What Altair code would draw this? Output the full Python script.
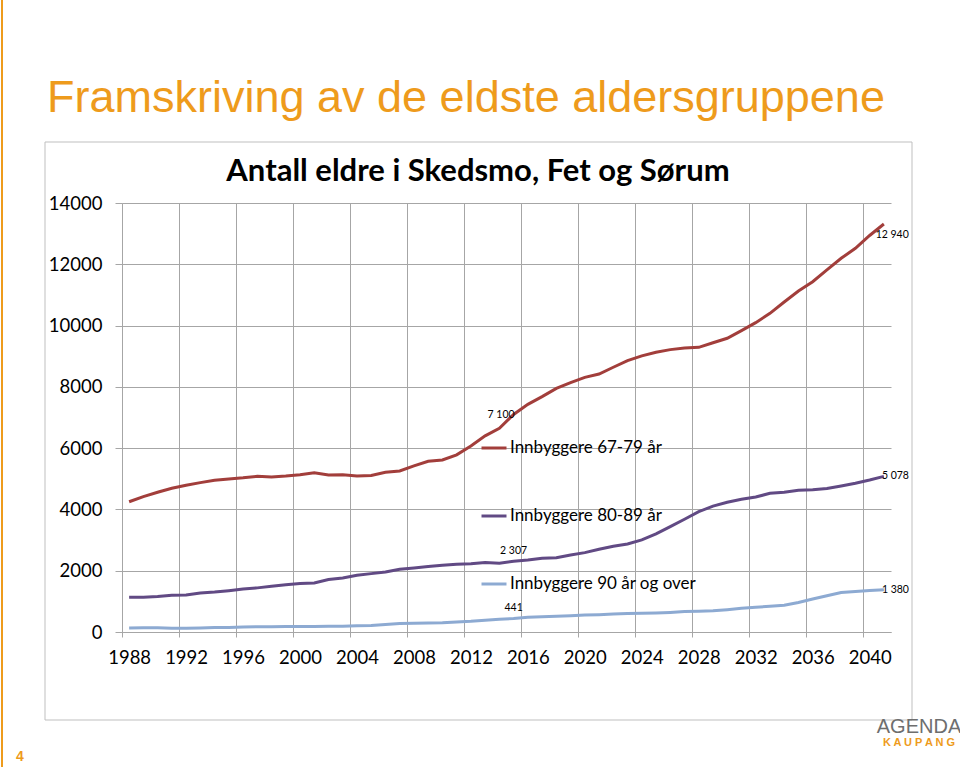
import altair as alt
import pandas as pd

# ---------------- data ----------------
years = list(range(1988, 2042))

innb_67_79 = [4250, 4420, 4560, 4690, 4790, 4875, 4950, 4995, 5030, 5080,
              5060, 5090, 5135, 5200, 5125, 5135, 5090, 5110, 5210, 5255,
              5420, 5570, 5615, 5780, 6070, 6400, 6650, 7100, 7430, 7680,
              7950, 8140, 8310, 8420, 8640, 8855, 9010, 9130, 9215, 9270,
              9290, 9440, 9585, 9835, 10095, 10400, 10770, 11130, 11430, 11815,
              12195, 12520, 12940, 13315]

innb_80_89 = [1135, 1135, 1155, 1200, 1210, 1275, 1305, 1350, 1405, 1440,
              1495, 1545, 1580, 1600, 1710, 1765, 1850, 1905, 1960, 2050,
              2090, 2135, 2180, 2210, 2230, 2265, 2245, 2307, 2350, 2405,
              2425, 2515, 2590, 2700, 2800, 2870, 3005, 3200, 3440, 3680,
              3925, 4110, 4235, 4330, 4405, 4525, 4560, 4625, 4645, 4680,
              4765, 4855, 4960, 5078]

innb_90_over = [130, 140, 140, 120, 120, 130, 150, 150, 160, 170,
                170, 180, 180, 180, 190, 190, 200, 210, 245, 275,
                285, 295, 305, 330, 350, 385, 415, 441, 480, 500,
                510, 530, 555, 565, 585, 600, 610, 620, 640, 665,
                675, 695, 730, 775, 805, 840, 870, 965, 1075, 1185,
                1290, 1325, 1355, 1380]

series_names = ["Innbyggere 67-79 år", "Innbyggere 80-89 år", "Innbyggere 90 år og over"]
series_colors = ["#A23E3B", "#614A84", "#8DAAD2"]

y_ticks = [0, 2000, 4000, 6000, 8000, 10000, 12000, 14000]
x_label_years = [1988, 1992, 1996, 2000, 2004, 2008, 2012, 2016,
                 2020, 2024, 2028, 2032, 2036, 2040]

heading = "Framskriving av de eldste aldersgruppene"
chart_title = "Antall eldre i Skedsmo, Fet og Sørum"
slide_number = "4"
logo_top = "AGENDA"
logo_bottom = "K A U P A N G"

# ---------------- table ----------------
rows = []
for name, vals in zip(series_names, [innb_67_79, innb_80_89, innb_90_over]):
    for yr, v in zip(years, vals):
        rows.append({"series": name, "year": yr, "value": v,
                     "label": f"{v:,}".replace(",", " ")})
df = pd.DataFrame(rows)

x_bounds = [y - 0.5 for y in x_label_years]

FONT = "Lato"
GRID = "#A6A6A6"

x_scale = alt.Scale(domain=[years[0] - 0.5, years[-1] + 0.5], nice=False, zero=False)
y_scale = alt.Scale(domain=[0, 14000], nice=False)

# grid / tick axis at category boundaries
x_grid = alt.X("year:Q", scale=x_scale,
               axis=alt.Axis(values=x_bounds, labels=False, title=None, grid=True,
                             gridColor=GRID, tickColor=GRID, domainColor=GRID,
                             tickSize=5, orient="bottom"))
# label axis at category centres
x_lab = alt.X("year:Q", scale=x_scale,
              axis=alt.Axis(values=x_label_years, format="d", title=None, grid=False,
                            ticks=False, domain=False, labelFont=FONT, labelFontSize=18.5,
                            labelColor="#000000", labelPadding=16, orient="bottom",
                            labelFlush=False, labelOverlap=False))
x_none = alt.X("year:Q", scale=x_scale, axis=None)

y_enc = alt.Y("value:Q", scale=y_scale,
              axis=alt.Axis(values=y_ticks, format="d", title=None, grid=True, gridColor=GRID,
                            tickColor=GRID, domainColor=GRID, tickSize=7,
                            labelFont=FONT, labelFontSize=18.5, labelColor="#000000",
                            labelPadding=13, orient="left"))
y_none = alt.Y("value:Q", scale=y_scale, axis=None)

color_enc = alt.Color("series:N",
                      scale=alt.Scale(domain=series_names, range=series_colors),
                      legend=alt.Legend(title=None, orient="none", legendX=358, legendY=231,
                                        symbolType="stroke", symbolSize=625,
                                        symbolStrokeWidth=3, labelFont=FONT,
                                        labelFontSize=17, labelColor="#000000",
                                        rowPadding=46, labelOffset=2, padding=0,
                                        labelLimit=400, direction="vertical"))

base = alt.Chart(df)

box = alt.Chart(pd.DataFrame({"k": [0]})).mark_rect(
    fill="white", fillOpacity=0, stroke="#BFBFBF", strokeWidth=1).encode(
    x=alt.value(-77), x2=alt.value(790), y=alt.value(-61), y2=alt.value(517))

left_rule = alt.Chart(pd.DataFrame({"k": [0]})).mark_rule(color="#EE9B1C", strokeWidth=2).encode(
    x=alt.value(-120), y=alt.value(-203), y2=alt.value(564))

lines = base.mark_line(strokeWidth=3).encode(x=x_grid, y=y_enc, color=color_enc)

lbl_style = dict(font=FONT, fontSize=10.5, color="#000000")
s0, s1, s2 = series_names
lab_red_mid = base.transform_filter(
    f"datum.series == '{s0}' && datum.year == 2015").mark_text(
    align="right", baseline="middle", dx=1, dy=1, **lbl_style).encode(
    x=x_lab, y=y_none, text="label:N")
lab_mid = base.transform_filter(
    f"(datum.series == '{s1}' || datum.series == '{s2}') && datum.year == 2015").mark_text(
    align="center", baseline="middle", dy=-10, **lbl_style).encode(
    x=x_none, y=y_none, text="label:N")
lab_red_end = base.transform_filter(
    f"datum.series == '{s0}' && datum.year == 2040").mark_text(
    align="left", baseline="middle", dx=6, **lbl_style).encode(
    x=x_none, y=y_none, text="label:N")
lab_end = base.transform_filter(
    f"(datum.series == '{s1}' || datum.series == '{s2}') && datum.year == 2041").mark_text(
    align="left", baseline="middle", dx=-2, **lbl_style).encode(
    x=x_none, y=y_none, text="label:N")

inner_title = alt.Chart(pd.DataFrame({"t": [chart_title]})).mark_text(
    font=FONT, fontSize=31, fontWeight="bold", color="#000000", align="center",
    baseline="middle").encode(x=alt.value(356), y=alt.value(-31), text="t:N")

page_no = alt.Chart(pd.DataFrame({"t": [slide_number]})).mark_text(
    font="Liberation Sans", fontSize=14, fontWeight="bold", color="#EE9B1C",
    align="center", baseline="middle").encode(x=alt.value(-102), y=alt.value(554), text="t:N")

logo1 = alt.Chart(pd.DataFrame({"t": [logo_top]})).mark_text(
    font="Liberation Sans", fontSize=20, color="#6E6E6E", align="center",
    baseline="middle").encode(x=alt.value(797), y=alt.value(524), text="t:N")
logo2 = alt.Chart(pd.DataFrame({"t": [logo_bottom]})).mark_text(
    font="Liberation Sans", fontSize=11, fontWeight="bold", color="#EE9B1C", align="center",
    baseline="middle").encode(x=alt.value(797), y=alt.value(540), text="t:N")

chart = alt.layer(box, left_rule, lines, lab_red_mid, lab_mid, lab_red_end, lab_end,
                  inner_title, page_no, logo1, logo2).resolve_axis(
    x="independent", y="independent").properties(
    width=769, height=429,
    autosize=alt.AutoSizeParams(type="none"),
    padding={"left": 122, "top": 203, "right": 69, "bottom": 135},
    title=alt.TitleParams(heading, anchor="start", frame="group", dx=-75, offset=-144,
                          baseline="middle",
                          font="Liberation Sans", fontSize=45, fontWeight="normal",
                          color="#EE9B1C"),
    background="white",
).configure_view(stroke="transparent")

chart.save("out.html", embed_options={"renderer": "svg", "actions": False})
